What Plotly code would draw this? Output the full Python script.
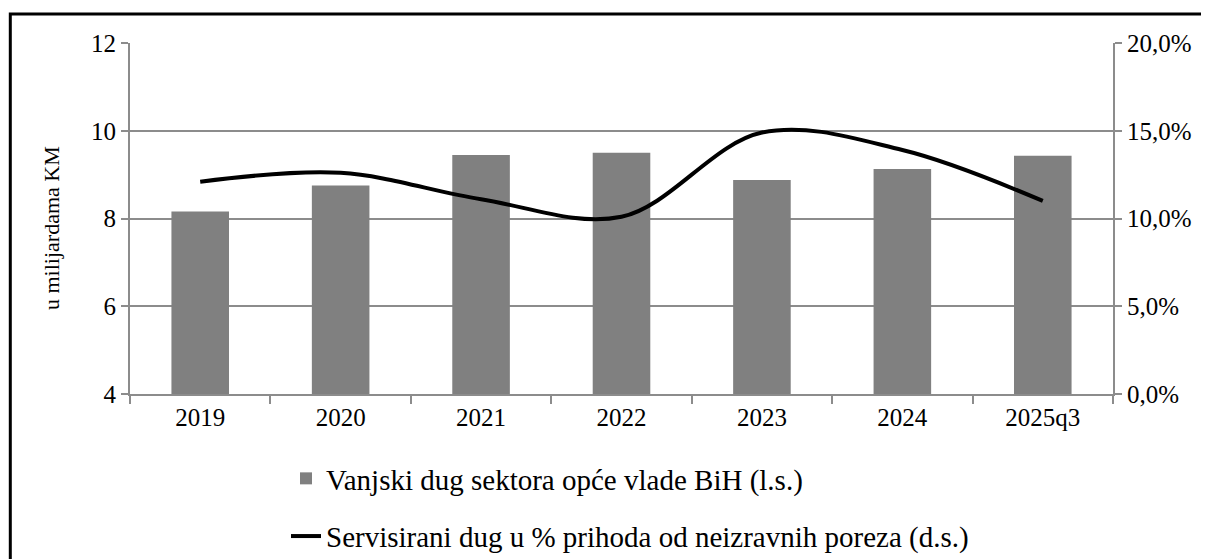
import plotly.graph_objects as go

categories = ["2019", "2020", "2021", "2022", "2023", "2024", "2025q3"]
debt_bn_km = [8.16, 8.75, 9.45, 9.50, 8.88, 9.13, 9.43]
service_pct = [12.1, 12.6, 11.1, 10.1, 14.9, 13.9, 11.0]

bar_name = "Vanjski dug sektora opće vlade BiH (l.s.)"
line_name = "Servisirani dug u % prihoda od neizravnih poreza (d.s.)"
y_title = "u milijardama KM"

FONT = "Liberation Serif"
GRID = "#8c8c8c"

fig = go.Figure()
fig.add_trace(go.Bar(
    x=categories, y=debt_bn_km, name=bar_name,
    marker=dict(color="#808080", line=dict(width=0)),
    legendgroup="a", yaxis="y",
))
fig.add_trace(go.Scatter(
    x=categories, y=service_pct, name=line_name, mode="lines",
    line=dict(color="black", width=4, shape="spline", smoothing=1.0),
    legendgroup="b", yaxis="y2",
))

# page body adds an 8px margin at top/left; figure fills the rest of the window
W, H = 1201, 551
L, T = 122, 35
R = W - 1105
B = H - 386
pw = W - L - R
ph = H - T - B

fig.update_layout(
    width=W, height=H,
    margin=dict(l=L, r=R, t=T, b=B, autoexpand=False),
    paper_bgcolor="white", plot_bgcolor="white",
    font=dict(family=FONT, size=25, color="black"),
    separators=",.",
    bargap=0.59,
    showlegend=True,
    legend=dict(
        x=(278 - L) / pw, xanchor="left",
        y=1 - (445 - T) / ph, yanchor="top",
        font=dict(family=FONT, size=29),
        tracegroupgap=17,
        bgcolor="rgba(0,0,0,0)",
    ),
    xaxis=dict(
        showline=True, linecolor=GRID, linewidth=2,
        ticks="outside", tickson="boundaries", ticklen=8, tickwidth=2, tickcolor=GRID,
        showgrid=False, tickfont=dict(family=FONT, size=25), fixedrange=True,
    ),
    yaxis=dict(
        range=[4, 12], dtick=2, tick0=4,
        showline=True, linecolor=GRID, linewidth=2,
        ticks="outside", ticklen=7, tickwidth=2, tickcolor=GRID,
        showgrid=True, gridcolor=GRID, gridwidth=2,
        zeroline=False, tickfont=dict(family=FONT, size=25),
    ),
    yaxis2=dict(
        range=[0, 20], dtick=5, tick0=0, overlaying="y", side="right",
        showline=True, linecolor=GRID, linewidth=2,
        ticks="outside", ticklen=7, tickwidth=2, tickcolor=GRID,
        showgrid=False, zeroline=False,
        tickformat=".1f", ticksuffix="%", tickfont=dict(family=FONT, size=25),
    ),
    annotations=[dict(
        text=y_title, textangle=-90, showarrow=False,
        xref="paper", yref="paper",
        x=(43 - L) / pw, y=1 - (220 - T) / ph,
        xanchor="center", yanchor="middle",
        font=dict(family=FONT, size=22, color="black"),
    )],
    shapes=[dict(
        type="rect", xref="paper", yref="paper",
        x0=(2.3 - L) / pw, x1=(W + 30 - L) / pw,
        y0=1 - (H + 30 - T) / ph, y1=1 + (T - 6) / ph,
        line=dict(color="black", width=3), fillcolor="rgba(0,0,0,0)", layer="above",
    )],
)

fig.write_html("out.html")
